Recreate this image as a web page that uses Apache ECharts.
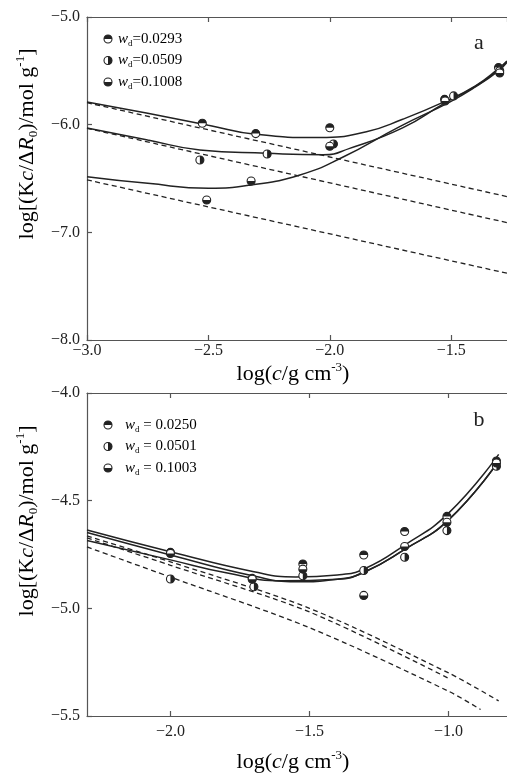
<!DOCTYPE html>
<html>
<head>
<meta charset="utf-8">
<script src="https://cdn.jsdelivr.net/npm/echarts@6/dist/echarts.min.js"></script>
<style>
  html, body { margin: 0; padding: 0; background: #fff; }
  #chart { width: 507px; height: 774px; }
</style>
</head>
<body>
<div id="chart"></div>
<script>
// ---- panel a ----
const aLabels = ['=0.0293', '=0.0509', '=0.1008']
const aPts1 = [[-2.525, -5.987], [-2.305, -6.083], [-2.0, -6.028], [-1.527, -5.765], [-1.305, -5.47]]
const aPts2 = [[-2.535, -6.328], [-2.258, -6.272], [-1.985, -6.18], [-1.49, -5.733], [-1.30, -5.50]]
const aPts3 = [[-2.507, -6.70], [-2.324, -6.523], [-2.0, -6.20], [-1.525, -5.78], [-1.30, -5.52]]
const aFit1 = [[-3.0, -5.79], [-2.75, -5.894], [-2.5, -6.005], [-2.305, -6.09], [-2.041, -6.12], [-1.849, -6.065], [-1.7, -5.95], [-1.527, -5.786], [-1.4, -5.64], [-1.305, -5.48], [-1.27, -5.41]]
const aFit2 = [[-3.0, -6.03], [-2.75, -6.142], [-2.535, -6.235], [-2.26, -6.266], [-2.027, -6.28], [-1.918, -6.22], [-1.7, -6.03], [-1.527, -5.80], [-1.4, -5.645], [-1.305, -5.49], [-1.27, -5.41]]
const aFit3 = [[-3.0, -6.483], [-2.75, -6.545], [-2.5, -6.59], [-2.324, -6.56], [-2.123, -6.467], [-1.945, -6.30], [-1.712, -6.018], [-1.506, -5.79], [-1.4, -5.65], [-1.305, -5.50], [-1.27, -5.42]]
const aDash1 = [[-3.0, -5.796], [-1.27, -6.668]]
const aDash2 = [[-3.0, -6.034], [-1.27, -6.91]]
const aDash3 = [[-3.0, -6.513], [-1.27, -7.38]]

// ---- panel b ----
const bLabels = [' = 0.0250', ' = 0.0501', ' = 0.1003']
const bPts1 = [[-2.0, -4.74], [-1.706, -4.861], [-1.524, -4.794], [-1.305, -4.752], [-1.158, -4.643], [-1.006, -4.573], [-0.828, -4.316]]
const bPts2 = [[-2.0, -4.864], [-1.70, -4.90], [-1.524, -4.849], [-1.305, -4.824], [-1.158, -4.763], [-1.006, -4.639], [-0.828, -4.34]]
const bPts3 = [[-2.0, -4.745], [-1.706, -4.865], [-1.524, -4.818], [-1.305, -4.94], [-1.158, -4.713], [-1.006, -4.60], [-0.828, -4.325]]
const bFit1 = [[-2.3, -4.636], [-2.0, -4.737], [-1.7, -4.83], [-1.55, -4.854], [-1.4, -4.845], [-1.3, -4.815], [-1.158, -4.706], [-1.0, -4.558], [-0.82, -4.285]]
const bFit2 = [[-2.3, -4.648], [-2.0, -4.752], [-1.7, -4.85], [-1.55, -4.877], [-1.4, -4.865], [-1.3, -4.83], [-1.158, -4.726], [-1.0, -4.589], [-0.82, -4.316]]
const bFit3 = [[-2.3, -4.685], [-2.0, -4.775], [-1.8, -4.835], [-1.6, -4.872], [-1.4, -4.865], [-1.3, -4.83], [-1.158, -4.726], [-1.0, -4.589], [-0.82, -4.316]]
const bDash1 = [[-2.3, -4.664], [-2.0, -4.784], [-1.5, -5.0], [-1.0, -5.30], [-0.82, -5.43]]
const bDash2 = [[-2.3, -4.673], [-2.0, -4.80], [-1.5, -5.017], [-1.0, -5.325]]
const bDash3 = [[-2.3, -4.715], [-2.0, -4.855], [-1.5, -5.09], [-1.0, -5.385], [-0.885, -5.47]]
const bTicks = [-2.0, -1.5, -1.0]

const serif = "'Liberation Serif', 'Times New Roman', serif"
const ink = '#222'
const frame = '#555'

const halfAngles = {
  top: [Math.PI, 2 * Math.PI],
  right: [-Math.PI / 2, Math.PI / 2],
  bottom: [0, Math.PI]
}

function markerShapes(cx, cy, kind) {
  const a = halfAngles[kind]
  return [
    { type: 'circle', shape: { cx: cx, cy: cy, r: 4 }, style: { fill: '#fff', stroke: ink, lineWidth: 1.1 } },
    { type: 'sector', shape: { cx: cx, cy: cy, r0: 0, r: 4, startAngle: a[0], endAngle: a[1], clockwise: true }, style: { fill: ink } }
  ]
}

function pointSeries(data, kind, idx) {
  return {
    type: 'custom',
    xAxisIndex: idx === 0 ? 0 : 2,
    yAxisIndex: idx,
    clip: true,
    z: 5,
    data: data,
    renderItem: function (params, api) {
      const p = api.coord([api.value(0), api.value(1)])
      return { type: 'group', children: markerShapes(p[0], p[1], kind) }
    }
  }
}

function lineSeries(data, idx, dashed) {
  return {
    type: 'line',
    xAxisIndex: idx === 0 ? 0 : 2,
    yAxisIndex: idx,
    data: data,
    smooth: dashed ? 0.3 : 0.5,
    showSymbol: false,
    symbol: 'none',
    clip: true,
    lineStyle: dashed
      ? { color: ink, width: 1.3, type: [5, 3.5] }
      : { color: ink, width: 1.5 }
  }
}

const rich = {
  n: { fontFamily: serif, fontSize: 22, color: ink, lineHeight: 26 },
  i: { fontFamily: serif, fontSize: 22, fontStyle: 'italic', color: ink, lineHeight: 26 },
  sub: { fontFamily: serif, fontSize: 13, color: ink, verticalAlign: 'bottom', lineHeight: 13 },
  sup: { fontFamily: serif, fontSize: 13, color: ink, verticalAlign: 'top', lineHeight: 13 }
}
const legRich = {
  n: { fontFamily: serif, fontSize: 15, color: ink, lineHeight: 18 },
  i: { fontFamily: serif, fontSize: 15, fontStyle: 'italic', color: ink, lineHeight: 18 },
  sub: { fontFamily: serif, fontSize: 9, color: ink, verticalAlign: 'bottom', lineHeight: 9 }
}

const yTitle = '{n|log[(K}{i|c}{n|/Δ}{i|R}{sub|0}{n|)/mol g}{sup|-1}{n|]}'
const xTitle = '{n|log(}{i|c}{n|/g cm}{sup|-3}{n|)}'

function fmt(v) {
  return (v < 0 ? '\u2212' : '') + Math.abs(v).toFixed(1)
}

function legendGraphics(labels, top, textX) {
  const kinds = ['top', 'right', 'bottom']
  const out = []
  labels.forEach(function (lab, k) {
    const y = top + k * 21.5
    markerShapes(108, y, kinds[k]).forEach(function (s) { out.push(s) })
    out.push({
      type: 'text', x: textX, y: y,
      style: { text: '{i|w}{sub|d}{n|' + lab + '}', rich: legRich, textVerticalAlign: 'middle', textAlign: 'left' }
    })
  })
  return out
}

function xAxisPair(grid, min, max, customVals) {
  const base = {
    gridIndex: grid, type: 'value', min: min, max: max,
    splitLine: { show: false },
    axisLine: { show: true, onZero: false, lineStyle: { color: frame, width: 1.2 } },
    axisTick: { show: true, inside: true, length: 5, lineStyle: { color: frame, width: 1.2 } }
  }
  if (customVals) {
    base.axisTick.customValues = customVals
  } else {
    base.interval = 0.5
  }
  const bottom = Object.assign({}, base, {
    position: 'bottom',
    axisLabel: {
      show: true, fontFamily: serif, fontSize: 16, color: ink,
      margin: grid === 0 ? 3 : 8, formatter: fmt,
      showMinLabel: true, showMaxLabel: !!customVals
    }
  })
  if (customVals) bottom.axisLabel.customValues = customVals
  const topAx = Object.assign({}, base, { position: 'top', axisLabel: { show: false } })
  return [bottom, topAx]
}

const chart = echarts.init(document.getElementById('chart'))

chart.setOption({
  animation: false,
  backgroundColor: '#fff',
  grid: [
    { left: 87, top: 17, right: 0, height: 323 },
    { left: 87, top: 393, right: 0, height: 323 }
  ],
  xAxis: xAxisPair(0, -3.0, -1.27, null).concat(xAxisPair(1, -2.3, -0.79, bTicks)),
  yAxis: [
    {
      gridIndex: 0, type: 'value', min: -8, max: -5, interval: 1,
      splitLine: { show: false },
      axisLine: { show: true, lineStyle: { color: frame, width: 1.2 } },
      axisTick: { show: true, inside: true, length: 5, lineStyle: { color: frame, width: 1.2 } },
      axisLabel: { fontFamily: serif, fontSize: 16, color: ink, margin: 7, formatter: fmt }
    },
    {
      gridIndex: 1, type: 'value', min: -5.5, max: -4.0, interval: 0.5,
      splitLine: { show: false },
      axisLine: { show: true, lineStyle: { color: frame, width: 1.2 } },
      axisTick: { show: true, inside: true, length: 5, lineStyle: { color: frame, width: 1.2 } },
      axisLabel: { fontFamily: serif, fontSize: 16, color: ink, margin: 7, formatter: fmt }
    }
  ],
  series: [
    lineSeries(aDash1, 0, true), lineSeries(aDash2, 0, true), lineSeries(aDash3, 0, true),
    lineSeries(aFit1, 0, false), lineSeries(aFit2, 0, false), lineSeries(aFit3, 0, false),
    pointSeries(aPts1, 'top', 0), pointSeries(aPts2, 'right', 0), pointSeries(aPts3, 'bottom', 0),
    lineSeries(bDash1, 1, true), lineSeries(bDash2, 1, true), lineSeries(bDash3, 1, true),
    lineSeries(bFit1, 1, false), lineSeries(bFit2, 1, false), lineSeries(bFit3, 1, false),
    pointSeries(bPts1, 'top', 1), pointSeries(bPts2, 'right', 1), pointSeries(bPts3, 'bottom', 1)
  ],
  graphic: [
    { type: 'text', x: 27, y: 144, rotation: Math.PI / 2,
      style: { text: yTitle, rich: rich, textAlign: 'center', textVerticalAlign: 'middle' } },
    { type: 'text', x: 27, y: 521, rotation: Math.PI / 2,
      style: { text: yTitle, rich: rich, textAlign: 'center', textVerticalAlign: 'middle' } },
    { type: 'text', x: 293, y: 374,
      style: { text: xTitle, rich: rich, textAlign: 'center', textVerticalAlign: 'middle' } },
    { type: 'text', x: 293, y: 762,
      style: { text: xTitle, rich: rich, textAlign: 'center', textVerticalAlign: 'middle' } },
    { type: 'text', x: 479, y: 43,
      style: { text: 'a', fontFamily: serif, fontSize: 22, fill: ink, textAlign: 'center', textVerticalAlign: 'middle' } },
    { type: 'text', x: 479, y: 420,
      style: { text: 'b', fontFamily: serif, fontSize: 22, fill: ink, textAlign: 'center', textVerticalAlign: 'middle' } }
  ].concat(legendGraphics(aLabels, 39, 118)).concat(legendGraphics(bLabels, 425, 125))
})
</script>
</body>
</html>
